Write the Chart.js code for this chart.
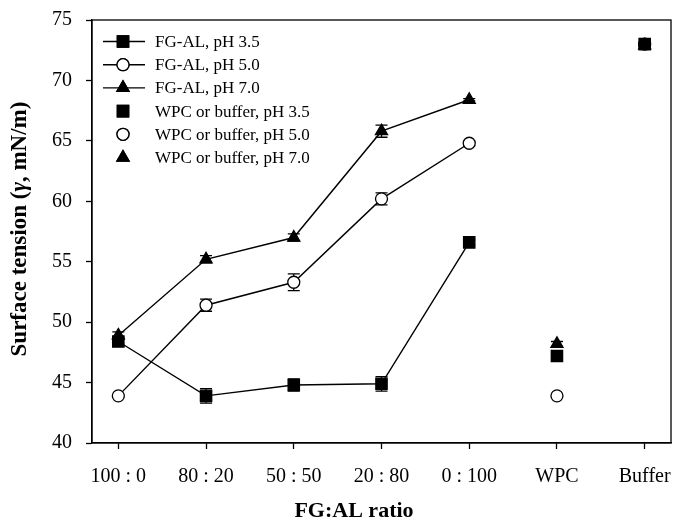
<!DOCTYPE html>
<html>
<head>
<meta charset="utf-8">
<script src="https://cdn.jsdelivr.net/npm/chart.js@4.4.0/dist/chart.umd.min.js"></script>
<style>
  html, body { margin: 0; padding: 0; background: #fff; }
  #wrap { width: 675px; height: 523px; }
</style>
</head>
<body>
<div id="wrap"><canvas id="chart" width="675" height="523"></canvas></div>
<script>
// categories on the x axis
const categories = ['100 : 0', '80 : 20', '50 : 50', '20 : 80', '0 : 100', 'WPC', 'Buffer'];
const yTicks = [40, 45, 50, 55, 60, 65, 70, 75];

// FG-AL mixtures (first five categories)
const ph35 = [48.4, 43.9, 44.8, 44.9, 56.6];
const ph50 = [43.9, 51.4, 53.3, 60.2, 64.8];
const ph70 = [48.9, 55.2, 57.0, 65.8, 68.4];
const ph35Err = [0.4, 0.6, 0.5, 0.6, 0.2];
const ph50Err = [0.1, 0.5, 0.7, 0.5, 0.2];
const ph70Err = [0.3, 0.3, 0.3, 0.5, 0.1];

// WPC and buffer alone
const ref35 = [47.2, 73.0];
const ref50 = [43.9, 73.0];
const ref70 = [48.2, 72.9];
const ref35Err = [0.2, 0.1];
const ref50Err = [0.1, 0.1];
const ref70Err = [0.2, 0.1];

const legendLabels = ['FG-AL, pH 3.5', 'FG-AL, pH 5.0', 'FG-AL, pH 7.0',
  'WPC or buffer, pH 3.5', 'WPC or buffer, pH 5.0', 'WPC or buffer, pH 7.0'];

const serif = '"Liberation Serif", "Times New Roman", serif';

function pts(vals, errs, start) {
  return vals.map((v, i) => ({ x: start + i, y: v, err: errs[i] }));
}

function ds(label, vals, errs, start, style, fill, radius, line) {
  return {
    label: label,
    data: pts(vals, errs, start),
    showLine: line,
    borderColor: '#000',
    borderWidth: 1.4,
    pointStyle: style,
    pointRadius: radius,
    pointBackgroundColor: fill,
    pointBorderColor: '#000',
    pointBorderWidth: 1.3,
    tension: 0
  };
}

const datasets = [
  ds(legendLabels[0], ph35, ph35Err, 0, 'rect', '#000', 8, true),
  ds(legendLabels[1], ph50, ph50Err, 0, 'circle', '#fff', 6, true),
  ds(legendLabels[2], ph70, ph70Err, 0, 'triangle', '#000', 7, true),
  ds(legendLabels[3], ref35, ref35Err, 5, 'rect', '#000', 8, false),
  ds(legendLabels[4], ref50, ref50Err, 5, 'circle', '#fff', 6, false),
  ds(legendLabels[5], ref70, ref70Err, 5, 'triangle', '#000', 7, false)
];

// error bars, drawn under the markers
const errorBars = {
  id: 'errorBars',
  beforeDatasetsDraw(chart) {
    const ctx = chart.ctx;
    const xs = chart.scales.x, ys = chart.scales.y;
    ctx.save();
    ctx.strokeStyle = '#000';
    ctx.lineWidth = 1.3;
    chart.data.datasets.forEach(d => {
      d.data.forEach(p => {
        const px = xs.getPixelForValue(p.x);
        const top = ys.getPixelForValue(p.y + p.err);
        const bot = ys.getPixelForValue(p.y - p.err);
        ctx.beginPath();
        ctx.moveTo(px, top); ctx.lineTo(px, bot);
        ctx.moveTo(px - 6, top); ctx.lineTo(px + 6, top);
        ctx.moveTo(px - 6, bot); ctx.lineTo(px + 6, bot);
        ctx.stroke();
      });
    });
    ctx.restore();
  }
};

// frame, legend and axis titles
const decorations = {
  id: 'decorations',
  afterDraw(chart) {
    const ctx = chart.ctx;
    const a = chart.chartArea;
    ctx.save();
    ctx.strokeStyle = '#000';
    ctx.lineWidth = 1.3;
    ctx.strokeRect(a.left, a.top, a.right - a.left, a.bottom - a.top);

    // legend
    ctx.font = '17px ' + serif;
    ctx.textBaseline = 'middle';
    chart.data.datasets.forEach((d, i) => {
      const y = a.top + 21.5 + i * 23.2;
      const mx = a.left + 31;
      if (d.showLine) {
        ctx.beginPath();
        ctx.lineWidth = 1.4;
        ctx.moveTo(a.left + 11, y); ctx.lineTo(a.left + 53, y);
        ctx.stroke();
      }
      ctx.fillStyle = d.pointBackgroundColor;
      ctx.lineWidth = 1.3;
      Chart.helpers.drawPoint(ctx, { pointStyle: d.pointStyle, radius: d.pointRadius, rotation: 0, borderWidth: 1.3 }, mx, y);
      ctx.fill();
      ctx.stroke();
      ctx.fillStyle = '#000';
      ctx.fillText(d.label, a.left + 63, y + 1);
    });

    // x title
    ctx.fillStyle = '#000';
    ctx.font = 'bold 22px ' + serif;
    ctx.textAlign = 'center';
    ctx.fillText('FG:AL ratio', 354, 511);

    // y title with italic gamma
    const parts = [
      ['bold 23px ' + serif, 'Surface tension ('],
      ['bold italic 23px ' + serif, 'γ'],
      ['bold 23px ' + serif, ', mN/m)']
    ];
    let total = 0;
    parts.forEach(p => { ctx.font = p[0]; total += ctx.measureText(p[1]).width; });
    ctx.translate(20, 229);
    ctx.rotate(-Math.PI / 2);
    ctx.textAlign = 'left';
    let x = -total / 2;
    parts.forEach(p => { ctx.font = p[0]; ctx.fillText(p[1], x, 0); x += ctx.measureText(p[1]).width; });
    ctx.restore();
  }
};

new Chart(document.getElementById('chart'), {
  type: 'line',
  data: { datasets: datasets },
  options: {
    responsive: false,
    animation: false,
    events: [],
    layout: { autoPadding: false, padding: { top: 20, right: 4, left: 0, bottom: 0 } },
    plugins: { legend: { display: false }, tooltip: { enabled: false } },
    scales: {
      x: {
        type: 'linear',
        min: -0.3,
        max: 6.3,
        afterBuildTicks: s => { s.ticks = categories.map((c, i) => ({ value: i })); },
        afterFit: s => { s.height = 80; s.paddingLeft = 0; s.paddingRight = 0; },
        grid: { display: true, drawOnChartArea: false, drawTicks: true, tickLength: 6, tickColor: '#000', tickWidth: 1.3 },
        border: { display: true, color: '#000', width: 1.3 },
        ticks: {
          color: '#000',
          font: { family: serif, size: 20 },
          padding: 16,
          maxRotation: 0,
          callback: v => categories[v]
        }
      },
      y: {
        min: 40,
        max: 75,
        afterBuildTicks: s => { s.ticks = yTicks.map(v => ({ value: v })); },
        afterFit: s => { s.width = 92; s.paddingTop = 0; s.paddingBottom = 0; },
        grid: { display: true, drawOnChartArea: false, drawTicks: true, tickLength: 6, tickColor: '#000', tickWidth: 1.3 },
        border: { display: true, color: '#000', width: 1.3 },
        ticks: {
          color: '#000',
          font: { family: serif, size: 20 },
          padding: 14
        }
      }
    }
  },
  plugins: [errorBars, decorations]
});
</script>
</body>
</html>
